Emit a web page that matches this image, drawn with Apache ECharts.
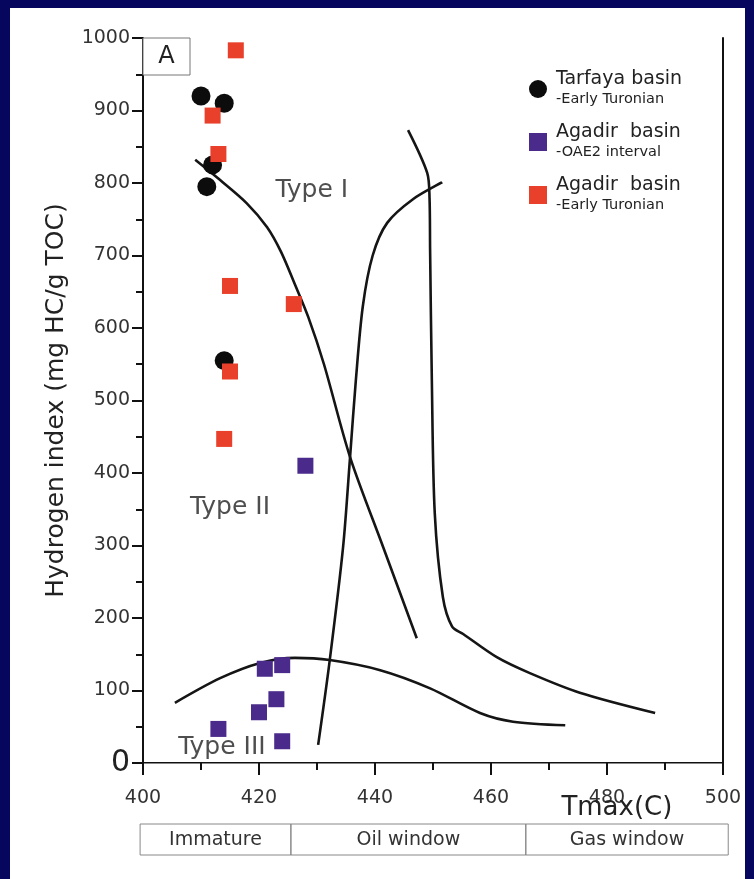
<!DOCTYPE html>
<html>
<head>
<meta charset="utf-8">
<script src="https://cdn.jsdelivr.net/npm/echarts@6/dist/echarts.min.js"></script>
<style>
html, body { margin: 0; padding: 0; background: #06065f; width: 754px; height: 879px; overflow: hidden; }
#chart { position: absolute; left: 10px; top: 8px; width: 735px; height: 871px; background: #fff; }
</style>
</head>
<body>
<div id="chart"></div>
<script>
// points (Tmax, HI)
var tarfaya = [[410, 920], [414, 910], [412, 825], [411, 795], [414, 555]];
var agadirOae2 = [[428, 410], [421, 130], [424, 135], [423, 88], [420, 70], [413, 47], [424, 30]];
var agadirTuronian = [[416, 983], [412, 893], [413, 840], [415, 658], [426, 633], [415, 540], [414, 447]];

// boundary curves
var curveTypeI = [[409, 832], [413.3, 804], [417.9, 772], [421.4, 739], [423.8, 705], [426.2, 660], [428.5, 615], [431.2, 550], [435.7, 422], [441.4, 298], [447.2, 172]];
var curveRising = [[430.2, 25], [432.2, 142], [434.5, 298], [435.7, 422], [436.7, 528], [437.9, 630], [439.6, 700], [442.1, 745], [446.6, 778], [451.6, 801]];
var curveRight = [[445.7, 873], [449.0, 814], [449.4, 780], [449.5, 708], [449.8, 528], [450.3, 345], [451.7, 229], [453.3, 188], [455.2, 178], [461.0, 146], [466.7, 124], [475.3, 97], [488.3, 69]];
var curveTypeIII = [[405.5, 83], [413.3, 117], [420.2, 138], [426.2, 145], [432.2, 142], [440.9, 128], [449.5, 103], [458.1, 69], [463.8, 57], [472.8, 52]];

var typeLabels = [[429.1, 790, 'Type I'], [415, 353, 'Type II'], [413.6, 22, 'Type III']];
var windows = [['Immature', 399.5, 425.5], ['Oil window', 425.5, 466], ['Gas window', 466, 500.9]];

var legendText = {
    tarfaya: '{a|Tarfaya basin}\n{b|-Early Turonian}',
    oae2: '{a|Agadir  basin}\n{b|-OAE2 interval}',
    turonian: '{a|Agadir  basin}\n{b|-Early Turonian}'
};

var FONT = 'DejaVu Sans, Arial, sans-serif';
var chart = echarts.init(document.getElementById('chart'));

function curve(data) {
    return {
        type: 'line', data: data, smooth: 0.3, showSymbol: false, silent: true, z: 1,
        lineStyle: { color: '#151515', width: 2.6 }
    };
}

chart.setOption({
    animation: false,
    textStyle: { fontFamily: FONT },
    grid: { left: 133, top: 30, right: 22, bottom: 116 },
    legend: {
        data: ['tarfaya', 'oae2', 'turonian'],
        orient: 'vertical', left: 514, top: 57, itemGap: 16,
        itemWidth: 18, itemHeight: 18,
        formatter: function (name) { return legendText[name]; },
        textStyle: {
            color: '#222', fontFamily: FONT, padding: [0, 0, 0, 4],
            rich: {
                a: { fontSize: 19, lineHeight: 21, color: '#222', fontFamily: FONT },
                b: { fontSize: 14.5, lineHeight: 19, color: '#222', fontFamily: FONT }
            }
        }
    },
    xAxis: [{
        type: 'value', min: 400, max: 500, interval: 20,
        axisLine: { onZero: false, lineStyle: { color: '#111', width: 2 } },
        axisTick: { length: 12, lineStyle: { color: '#111', width: 2 } },
        minorTick: { show: true, splitNumber: 2, length: 7, lineStyle: { color: '#111', width: 2 } },
        axisLabel: { margin: 26, fontSize: 19, color: '#333', fontFamily: FONT },
        splitLine: { show: false }
    }, {
        type: 'value', min: 400, max: 500, position: 'top',
        axisLine: { show: true, lineStyle: { color: '#888', width: 1 } },
        axisTick: { show: false }, axisLabel: { show: false }, splitLine: { show: false }
    }],
    yAxis: [{
        type: 'value', min: 0, max: 1000, interval: 100,
        name: 'Hydrogen index (mg HC/g TOC)', nameLocation: 'middle', nameGap: 74, nameRotate: 90,
        nameTextStyle: { fontSize: 25, color: '#222', fontFamily: FONT },
        axisLine: { onZero: false, lineStyle: { color: '#111', width: 2 } },
        axisTick: { length: 11, lineStyle: { color: '#111', width: 2 } },
        minorTick: { show: true, splitNumber: 2, length: 7, lineStyle: { color: '#111', width: 2 } },
        axisLabel: {
            margin: 13, fontSize: 19, color: '#333', fontFamily: FONT,
            formatter: function (v) { return v === 0 ? '{z|0}' : v; },
            rich: { z: { fontSize: 30, color: '#222', fontFamily: FONT } }
        },
        splitLine: { show: false }
    }, {
        type: 'value', min: 0, max: 1000, position: 'right',
        axisLine: { show: true, lineStyle: { color: '#111', width: 2 } },
        axisTick: { show: false }, axisLabel: { show: false }, splitLine: { show: false }
    }],
    series: [
        curve(curveTypeI),
        curve(curveRising),
        curve(curveRight),
        curve(curveTypeIII),
        {
            type: 'scatter', silent: true, symbolSize: 0, z: 2,
            data: typeLabels,
            label: {
                show: true, position: 'inside', fontSize: 25, color: '#222', fontFamily: FONT,
                formatter: function (p) { return p.data[2]; }
            }
        },
        {
            name: 'tarfaya', type: 'scatter', symbol: 'circle', symbolSize: 19, z: 3,
            itemStyle: { color: '#0c0c0c', opacity: 1 }, data: tarfaya
        },
        {
            name: 'oae2', type: 'scatter', symbol: 'rect', symbolSize: 16, z: 4,
            itemStyle: { color: '#4a2a8b', opacity: 1 }, data: agadirOae2
        },
        {
            name: 'turonian', type: 'scatter', symbol: 'rect', symbolSize: 16, z: 5,
            itemStyle: { color: '#e8402b', opacity: 1 }, data: agadirTuronian
        }
    ]
});

// annotation boxes placed through the axis scales
var corner = chart.convertToPixel({ gridIndex: 0 }, [400, 1000]);
var base = chart.convertToPixel({ yAxisIndex: 0 }, 0);
var graphics = [
    { type: 'rect', shape: { x: corner[0], y: corner[1], width: 47, height: 37 },
      style: { fill: '#fff', stroke: '#777', lineWidth: 1 }, z: 10 },
    { type: 'text', x: corner[0] + 23.5, y: corner[1] + 19,
      style: { text: 'A', font: '24px ' + FONT, fill: '#222', align: 'center', verticalAlign: 'middle' }, z: 11 },
    { type: 'text', x: chart.convertToPixel({ xAxisIndex: 0 }, 481.7), y: base + 45,
      style: { text: 'Tmax(C)', font: '26px ' + FONT, fill: '#222', align: 'center', verticalAlign: 'middle' }, z: 11 }
];
windows.forEach(function (w) {
    var x0 = chart.convertToPixel({ xAxisIndex: 0 }, w[1]);
    var x1 = chart.convertToPixel({ xAxisIndex: 0 }, w[2]);
    graphics.push({ type: 'rect', shape: { x: x0, y: base + 61, width: x1 - x0, height: 31 },
        style: { fill: 'none', stroke: '#888', lineWidth: 1 }, z: 10 });
    graphics.push({ type: 'text', x: (x0 + x1) / 2, y: base + 77,
        style: { text: w[0], font: '19px ' + FONT, fill: '#333', align: 'center', verticalAlign: 'middle' }, z: 11 });
});
chart.setOption({ graphic: graphics });
</script>
</body>
</html>
